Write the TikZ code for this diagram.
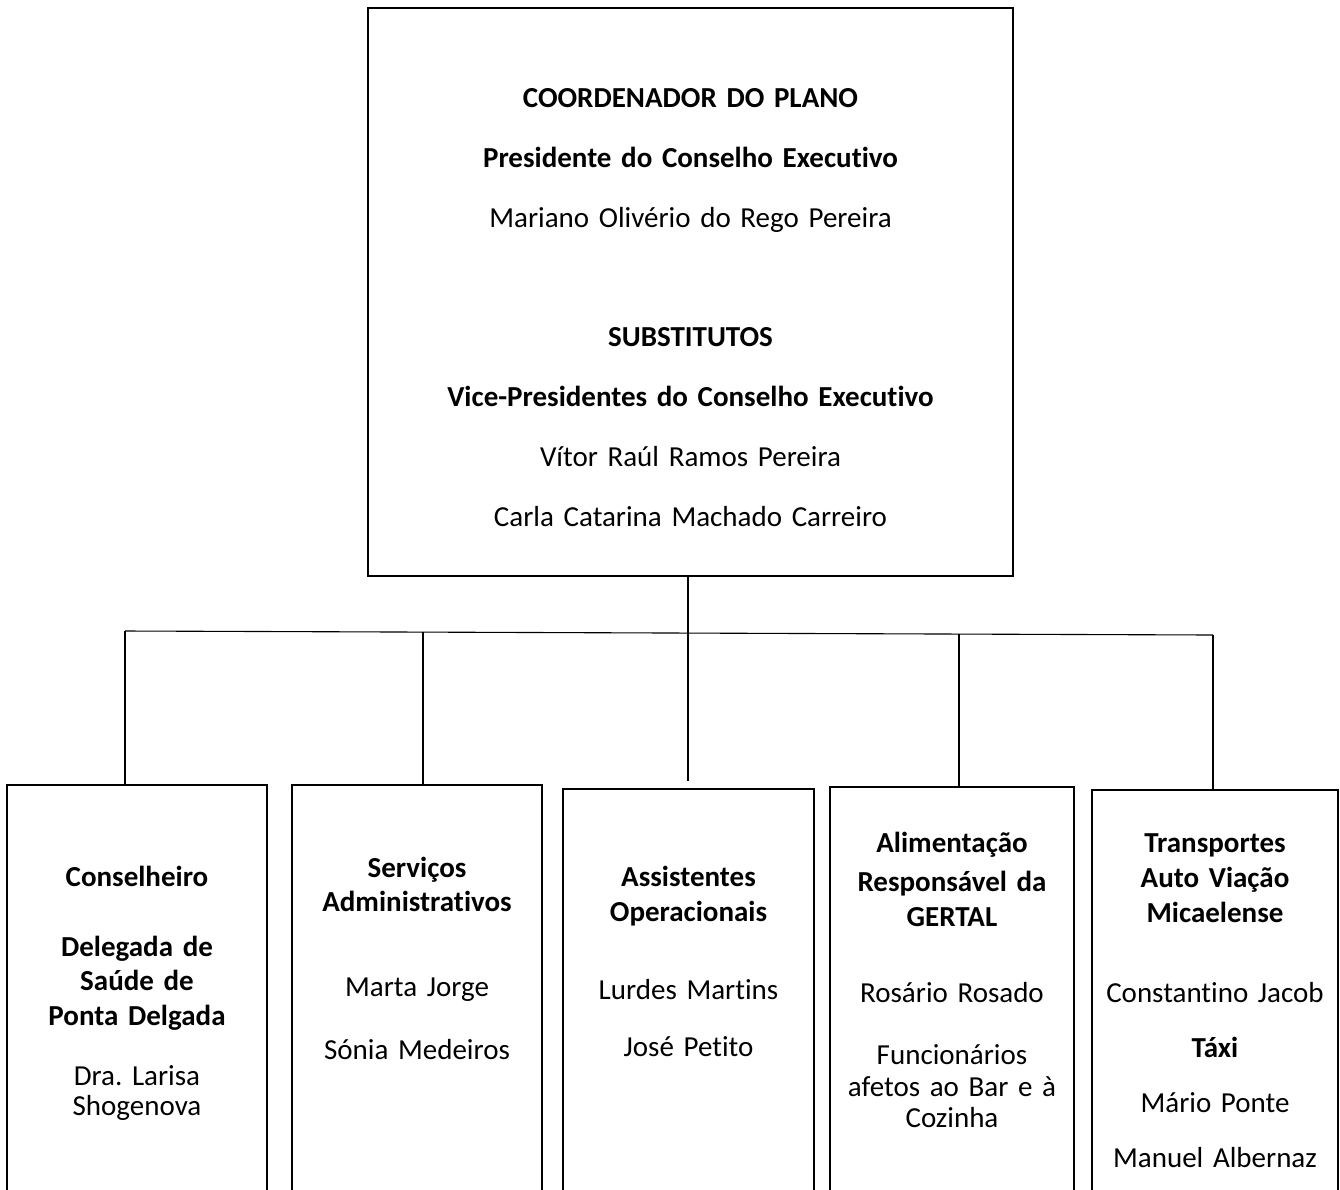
\documentclass[tikz,border=0pt]{standalone}
\usepackage{fontspec}
\setmainfont[Ligatures=NoCommon]{Carlito}
\frenchspacing
\tikzstyle{every node}+=[inner sep=0pt,font=\fontsize{29}{30}\selectfont]
\usetikzlibrary{positioning}
\tikzset{
	unitbox/.style={draw,line width=2pt,minimum height=520pt,anchor=north},
	unittext/.style={align=center,anchor=base},
}
\newcommand{\drawdrops}[2][\empty]{
	\foreach \a/\b in {#2}{
		\draw[#1] (\a) -- (\a |- \b.north);
	}
}

\begin{document}
\begin{tikzpicture}[x=1pt,y=-1pt,line width=1.1pt]
\useasboundingbox (0,0) rectangle (1340,1189);
\clip (0,0) rectangle (1340,1189);

% coordinator
\node [draw,line width=2pt,minimum width=645pt,minimum height=568pt] (plano) at (690.5,292) {};
\node [unittext,text width=620pt] (plano-txt) at (690.5,107) {\textbf{COORDENADOR DO PLANO}\\[30pt]
	\textbf{Presidente do Conselho Executivo}\\[30pt]
	Mariano Olivério do Rego Pereira\\[89pt]
	\textbf{SUBSTITUTOS}\\[30pt]
	\textbf{Vice-Presidentes do Conselho Executivo}\\[30pt]
	Vítor Raúl Ramos Pereira\\[30pt]
	Carla Catarina Machado Carreiro};

% units
\node [unitbox,minimum width=260pt] (conselho) at (137,784) {};
\node [unitbox,minimum width=250pt] (servicos) at (417,784) {};
\node [unitbox,minimum width=251pt] (assist) at (688.5,788) {};
\node [unitbox,minimum width=244pt] (aliment) at (952,786) {};
\node [unitbox,minimum width=246pt] (transp) at (1215,789) {};

\node [unittext,text width=244pt] (conselho-txt) at (137,886) {\textbf{Conselheiro}\\[40pt]
	\textbf{Delegada de}\\[4pt] \textbf{Saúde de}\\[5pt] \textbf{Ponta Delgada}\\[30pt]
	Dra. Larisa\\ Shogenova};
\node [unittext,text width=234pt] (servicos-txt) at (417,877) {\textbf{Serviços}\\[4pt] \textbf{Administrativos}\\[55pt]
	Marta Jorge\\[33pt] Sónia Medeiros};
\node [unittext,text width=235pt] (assist-txt) at (688.5,886) {\textbf{Assistentes}\\[5pt] \textbf{Operacionais}\\[48pt]
	Lurdes Martins\\[27pt] José Petito};
\node [unittext,text width=230pt] (aliment-txt) at (952,852) {\textbf{Alimentação}\\[9pt] \textbf{Responsável da}\\[5pt] \textbf{GERTAL}\\[46pt]
	Rosário Rosado\\[32pt] Funcionários\\[2pt] afetos ao Bar e à\\[1pt] Cozinha};
\node [unittext,text width=232pt] (transp-txt) at (1215,852) {\textbf{Transportes}\\[5pt] \textbf{Auto Viação}\\[5pt] \textbf{Micaelense}\\[50pt]
	Constantino Jacob\\[25pt] \textbf{Táxi}\\[25pt] Mário Ponte\\[25pt] Manuel Albernaz};

% connectors
\coordinate (busA) at (125,631);
\coordinate (busB) at (423,632);
\coordinate (busC) at (688,633);
\coordinate (busD) at (959,634);
\coordinate (busE) at (1213,635);

\draw (busC |- plano.south) -- (busC);
\draw (busA) -- (busE);
\drawdrops{busA/conselho,busB/servicos,busD/aliment,busE/transp}
\draw (busC) -- ([yshift=7pt]busC |- assist.north);
\end{tikzpicture}
\end{document}
